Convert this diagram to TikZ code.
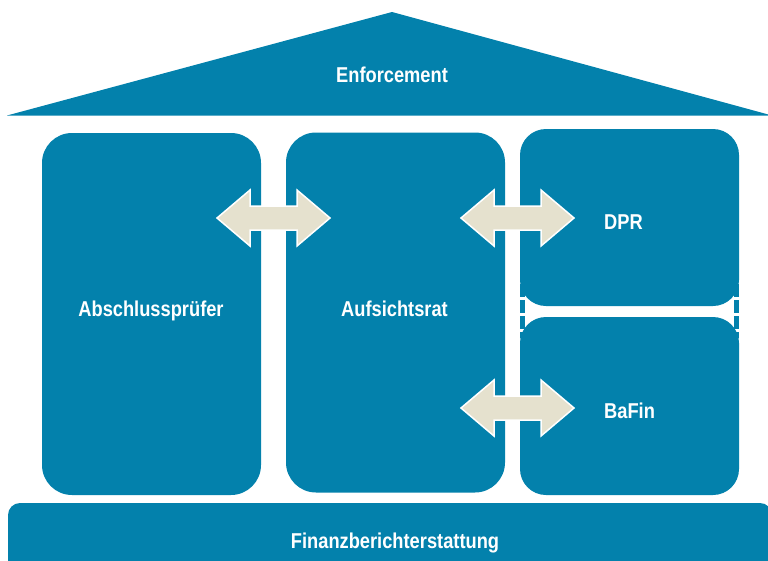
\documentclass[tikz,border=0pt]{standalone}
\usepackage{fontspec}
\setmainfont{Liberation Sans}[FakeStretch=0.85]
\usetikzlibrary{calc}
\definecolor{blu}{RGB}{3,129,172}
\definecolor{beige}{RGB}{229,225,206}
\begin{document}
\begin{tikzpicture}[x=1pt,y=-1pt,
  box/.style={fill=blu, draw=none, rounded corners=30pt, inner sep=0pt, outer sep=0pt},
  smallbox/.style={box, rounded corners=26pt},
  lab/.style={text=white, font=\bfseries\fontsize{21.5}{26}\selectfont, anchor=base, inner sep=0pt},
  arr/.style={fill=beige, draw=white, line width=1.5pt, line join=miter},
  dashlink/.style={draw=blu, line width=5pt, dash pattern=on 13pt off 3pt},
  dblarrow/.pic={\path[arr] (-56.5,0) -- (-23.5,-28) -- (-23.5,-12) -- (23.5,-12) -- (23.5,-28) -- (56.5,0) -- (23.5,28) -- (23.5,12) -- (-23.5,12) -- (-23.5,28) -- cycle;}]
\useasboundingbox (0,0) rectangle (768,560);
\clip (0,0) rectangle (768,560);
% roof
\coordinate (roofL) at (7,115.5);
\coordinate (roofT) at (392,12);
\coordinate (roofR) at (772,115.5);
\fill[blu] (roofL) -- (roofT) -- (roofR) -- cycle;
\node[lab] (enf) at (392,82.3) {Enforcement};
% pillars
\node[box, minimum width=219pt, minimum height=362pt] (abs) at (151.5,314) {};
\node[box, minimum width=219pt, minimum height=360pt] (auf) at (395.5,312.5) {};
\node[smallbox, minimum width=219pt, minimum height=177pt] (dpr) at (629.5,217.5) {};
\node[smallbox, minimum width=219pt, minimum height=178pt] (bafin) at (629.5,406) {};
% dashed links between DPR and BaFin
\draw[dashlink] ($(dpr.south west)+(2.5,-22)$) -- ($(bafin.north west)+(2.5,21)$);
\draw[dashlink] ($(dpr.south east)+(-2.5,-22)$) -- ($(bafin.north east)+(-2.5,21)$);
% base
\fill[blu, rounded corners=12pt] (8,503) rectangle (772,600);
\coordinate (base) at (395,548);
\node[lab] (fin) at (base) {Finanzberichterstattung};
% labels
\node[lab] (labs) at (151,316.5) {Abschlussprüfer};
\node[lab] (lauf) at (394.5,316.5) {Aufsichtsrat};
\node[lab, anchor=base west] (ldpr) at (604,229) {DPR};
\node[lab, anchor=base west] (lbafin) at (604,418) {BaFin};
% arrows
\pic (a1) at (273.5,218) {dblarrow};
\pic (a2) at (517.5,218) {dblarrow};
\pic (a3) at (517.5,408) {dblarrow};
\end{tikzpicture}
\end{document}
